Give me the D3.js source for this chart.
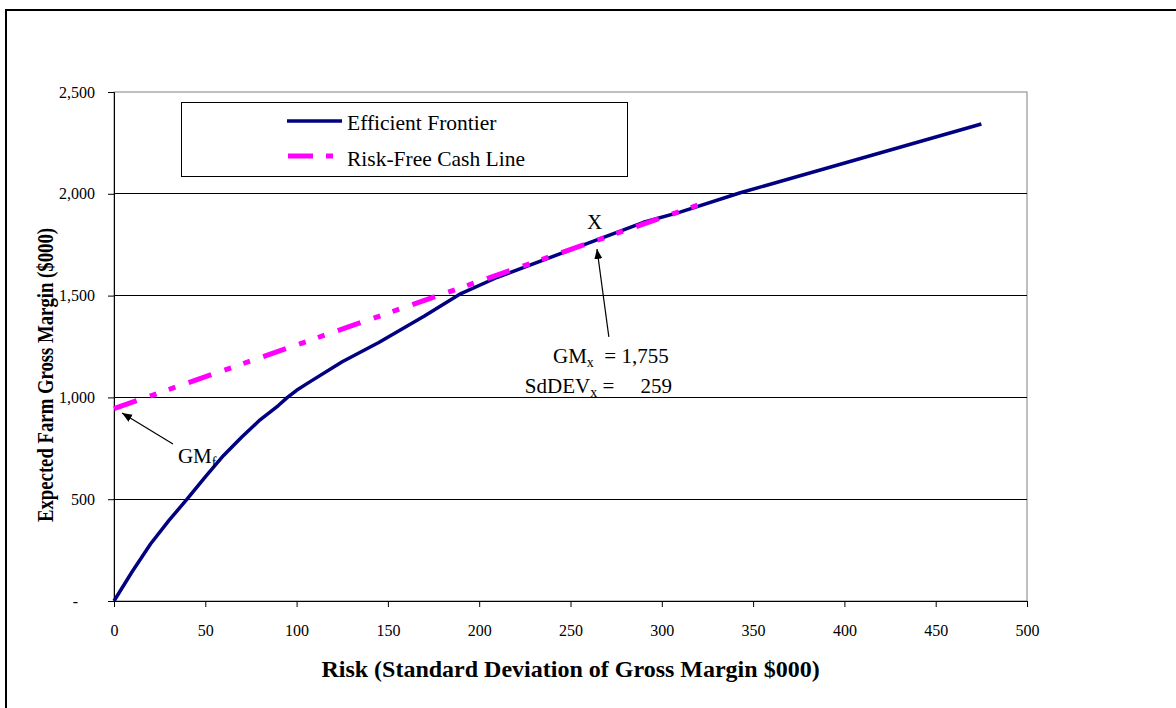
<!DOCTYPE html>
<html>
<head>
<meta charset="utf-8">
<script src="https://cdn.jsdelivr.net/npm/d3@7"></script>
<style>
  html, body { margin: 0; padding: 0; background: #fff; }
  svg { display: block; font-family: "Liberation Serif", "Times New Roman", serif; }
  text { white-space: pre; }
</style>
</head>
<body>
<svg id="chart" width="1176" height="708"></svg>
<script>
// ---- data ----
const riskValues     = [0, 10, 20, 30, 40, 50, 60, 70, 80, 90, 95, 100, 107, 125, 145, 170, 190, 210, 259, 290, 310, 343, 475];
const frontierValues = [0, 145, 280, 395, 500, 610, 715, 805, 890, 960, 1000, 1035, 1075, 1175, 1270, 1400, 1510, 1590, 1755, 1860, 1910, 2005, 2343];
const cashRisk   = [0, 325];
const cashValues = [945, 1961];
const xTicks = [0, 50, 100, 150, 200, 250, 300, 350, 400, 450, 500];
const yTicks = [0, 500, 1000, 1500, 2000, 2500];
const yTickLabels = ["-", "500", "1,000", "1,500", "2,000", "2,500"];
const seriesNames = ["Efficient Frontier", "Risk-Free Cash Line"];
const xTitle = "Risk (Standard Deviation of Gross Margin $000)";
const yTitle = "Expected Farm Gross Margin ($000)";
// annotation anchors in data units
const arrowX  = { from: [271, 1297], to: [264.5, 1729] };
const arrowGf = { from: [32.3, 771], to: [4.4, 923] };

// ---- layout ----
const svg = d3.select("#chart");
const x = d3.scaleLinear().domain([0, 500]).range([114, 1027]);
const y = d3.scaleLinear().domain([0, 2500]).range([601, 92]);
const serif = '"Liberation Serif", "Times New Roman", serif';

// outer border
svg.append("rect").attr("x", 6).attr("y", 10).attr("width", 1180).attr("height", 710)
  .attr("fill", "#fff").attr("stroke", "#000").attr("stroke-width", 2);

// arrow marker
svg.append("defs").append("marker")
  .attr("id", "ah").attr("viewBox", "0 0 10 10").attr("refX", 10).attr("refY", 5)
  .attr("markerWidth", 10).attr("markerHeight", 10).attr("markerUnits", "userSpaceOnUse")
  .attr("orient", "auto")
  .append("path").attr("d", "M0,1 L10,5 L0,9 z").attr("fill", "#000");

// plot border (gray)
svg.append("rect").attr("x", x(0)).attr("y", y(2500)).attr("width", x(500) - x(0)).attr("height", y(0) - y(2500))
  .attr("fill", "none").attr("stroke", "#808080").attr("stroke-width", 1);

// gridlines
svg.append("g").selectAll("line").data(yTicks.filter(v => v > 0 && v < 2500)).join("line")
  .attr("x1", x(0)).attr("x2", x(500)).attr("y1", d => y(d)).attr("y2", d => y(d))
  .attr("stroke", "#000").attr("stroke-width", 1).attr("shape-rendering", "crispEdges");

// axes
const xAxis = svg.append("g").attr("transform", `translate(0,${y(0)})`)
  .call(d3.axisBottom(x).tickValues(xTicks).tickSize(6).tickPadding(18).tickFormat(d3.format("d")));
const yAxis = svg.append("g").attr("transform", `translate(${x(0)},0)`)
  .call(d3.axisLeft(y).tickValues(yTicks).tickSize(6).tickPadding(13).tickFormat((d, i) => yTickLabels[i]));
[xAxis, yAxis].forEach(g => {
  g.select(".domain").attr("stroke", "#000");
  g.selectAll(".tick line").attr("stroke", "#000");
  g.selectAll("text").attr("font-family", serif).attr("font-size", 16).attr("fill", "#000");
});
yAxis.selectAll(".tick text").filter((d, i) => i === 0).attr("dx", "-17");

// frontier data
const frontier = riskValues.map((r, i) => [r, frontierValues[i]]);
const cash = cashRisk.map((r, i) => [r, cashValues[i]]);
const line = d3.line().x(d => x(d[0])).y(d => y(d[1]));

svg.append("path").datum(frontier).attr("d", line)
  .attr("fill", "none").attr("stroke", "#000080").attr("stroke-width", 3.5)
  .attr("stroke-linejoin", "round");
svg.append("path").datum(cash).attr("d", line)
  .attr("fill", "none").attr("stroke", "#ff00ff").attr("stroke-width", 5)
  .attr("stroke-dasharray", "24,14,7,13,7,14");

// axis titles
svg.append("text").attr("x", (x(0) + x(500)) / 2 + 0).attr("y", 677)
  .attr("text-anchor", "middle").attr("font-weight", "bold").attr("font-size", 24)
  .attr("font-family", serif).text(xTitle);
svg.append("text").attr("transform", `translate(53,375) rotate(-90)`)
  .attr("text-anchor", "middle").attr("font-weight", "bold").attr("font-size", 23)
  .attr("textLength", 294).attr("lengthAdjust", "spacingAndGlyphs")
  .attr("font-family", serif).text(yTitle);

// legend
const lg = svg.append("g");
lg.append("rect").attr("x", 181.5).attr("y", 102.5).attr("width", 446).attr("height", 74)
  .attr("fill", "#fff").attr("stroke", "#000").attr("stroke-width", 1);
lg.append("line").attr("x1", 287).attr("x2", 342).attr("y1", 121).attr("y2", 121)
  .attr("stroke", "#000080").attr("stroke-width", 3.5);
lg.append("line").attr("x1", 288).attr("x2", 342).attr("y1", 156).attr("y2", 156)
  .attr("stroke", "#ff00ff").attr("stroke-width", 5).attr("stroke-dasharray", "25,13,7,20");
lg.selectAll("text.lab").data(seriesNames).join("text").attr("class", "lab")
  .attr("x", 347).attr("y", (d, i) => 130 + i * 36)
  .attr("font-family", serif).attr("font-size", 21.5).text(d => d);

// annotations
svg.append("line").attr("x1", x(arrowX.from[0])).attr("y1", y(arrowX.from[1]))
  .attr("x2", x(arrowX.to[0])).attr("y2", y(arrowX.to[1]))
  .attr("stroke", "#000").attr("stroke-width", 1.2).attr("marker-end", "url(#ah)");
svg.append("line").attr("x1", x(arrowGf.from[0])).attr("y1", y(arrowGf.from[1]))
  .attr("x2", x(arrowGf.to[0])).attr("y2", y(arrowGf.to[1]))
  .attr("stroke", "#000").attr("stroke-width", 1.2).attr("marker-end", "url(#ah)");

svg.append("text").attr("x", x(259)).attr("y", y(1827)).attr("font-size", 21)
  .attr("font-family", serif).text("X");

const t1 = svg.append("text").attr("x", x(240.4)).attr("y", y(1169)).attr("font-size", 21).attr("font-family", serif);
t1.append("tspan").text("GM");
t1.append("tspan").attr("font-size", 14).attr("dy", 4).text("x");
t1.append("tspan").attr("dy", -4).text("  = 1,755");

const t2 = svg.append("text").attr("x", x(225)).attr("y", y(1022)).attr("font-size", 21).attr("font-family", serif);
t2.append("tspan").text("SdDEV");
t2.append("tspan").attr("font-size", 14).attr("dy", 4).text("x");
t2.append("tspan").attr("dy", -4).text(" =     259");

const t3 = svg.append("text").attr("x", x(35)).attr("y", y(678)).attr("font-size", 21).attr("font-family", serif);
t3.append("tspan").text("GM");
t3.append("tspan").attr("font-size", 14).attr("dy", 4).text("f");
</script>
</body>
</html>
